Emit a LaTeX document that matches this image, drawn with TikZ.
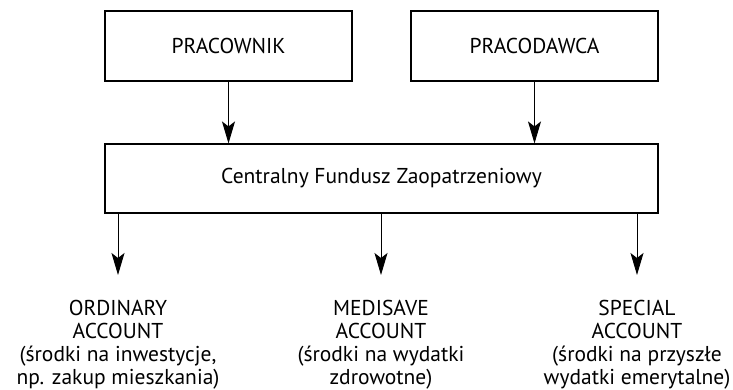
\documentclass[tikz,border=0pt]{standalone}
\usepackage{fontspec}
\setmainfont{PT Sans}
\usetikzlibrary{positioning, arrows.meta}

\begin{document}
\begin{tikzpicture}[x=1pt, y=1pt,
  font=\fontsize{21.5}{23}\selectfont,
  box/.style={draw, line width=1.1pt, minimum height=70pt, inner sep=0pt},
  konto/.style={align=center, inner sep=0pt, anchor=north},
  strz/.style={-{Stealth[length=22pt, width=13pt, inset=5pt]}, line width=0.9pt}]
\useasboundingbox (0,0) rectangle (733,390);
\node[box, minimum width=247pt] (pracownik) at (228.5,344) {PRACOWNIK};
\node[box, minimum width=247pt, right of=pracownik, node distance=306pt] (pracodawca) {PRACODAWCA};
\node[box, minimum width=553pt, minimum height=69pt] (fundusz) at (381.5,211.5) {Centralny Fundusz Zaopatrzeniowy};

\coordinate (k1) at (118,115);
\coordinate (k2) at (381,115);
\coordinate (k3) at (637,115);
\node[konto] (ordinary) at (118,90) {ORDINARY\\ACCOUNT\\(środki na inwestycje,\\np. zakup mieszkania)};
\node[konto] (medisave) at (381,90) {MEDISAVE\\ACCOUNT\\(środki na wydatki\\zdrowotne)};
\node[konto] (special) at (637,90) {SPECIAL\\ACCOUNT\\(środki na przyszłe\\wydatki emerytalne)};

\draw[strz] (pracownik.south) -- (pracownik.south |- fundusz.north);
\draw[strz] (pracodawca.south) -- (pracodawca.south |- fundusz.north);
\foreach \k in {k1,k2,k3}
  \draw[strz] (fundusz.south -| \k) -- (\k);
\end{tikzpicture}
\end{document}
